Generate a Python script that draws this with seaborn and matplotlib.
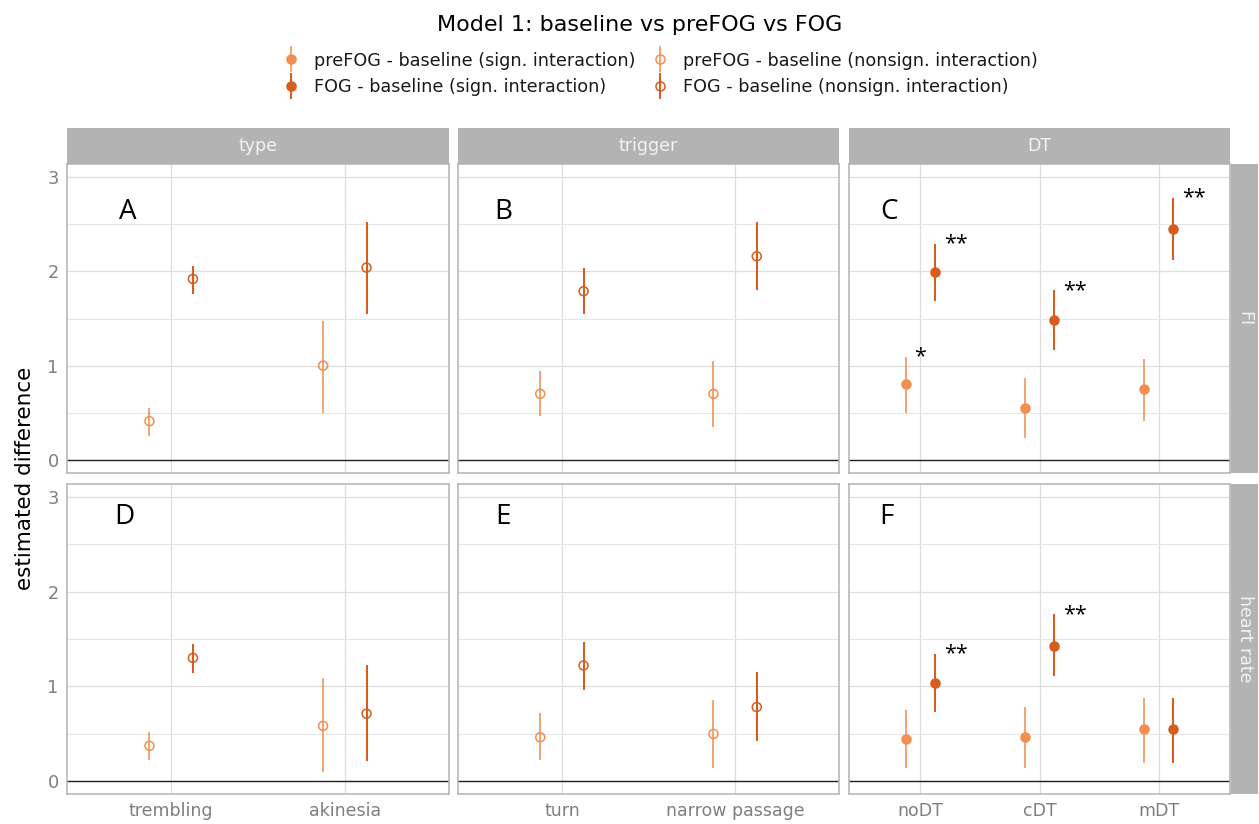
import matplotlib
matplotlib.use("Agg")
import matplotlib.pyplot as plt
from matplotlib.lines import Line2D
import numpy as np
import pandas as pd
import seaborn as sns

# categories per facet
facets = ["type", "trigger", "DT"]
type_levels = ["trembling", "akinesia"]
trigger_levels = ["turn", "narrow passage"]
dt_levels = ["noDT", "cDT", "mDT"]
outcomes = ["FI", "heart rate"]
contrasts = ["preFOG - baseline", "FOG - baseline"]

# estimates, order: trembling, akinesia, turn, narrow passage, noDT, cDT, mDT
fi_prefog_est = [0.41, 1.00, 0.70, 0.70, 0.80, 0.555, 0.75]
fi_prefog_lo = [0.25, 0.50, 0.46, 0.35, 0.495, 0.23, 0.41]
fi_prefog_hi = [0.555, 1.475, 0.945, 1.05, 1.09, 0.866, 1.07]
fi_fog_est = [1.92, 2.04, 1.79, 2.16, 1.99, 1.48, 2.45]
fi_fog_lo = [1.76, 1.55, 1.55, 1.80, 1.69, 1.17, 2.12]
fi_fog_hi = [2.06, 2.52, 2.04, 2.52, 2.29, 1.80, 2.78]

hr_prefog_est = [0.37, 0.58, 0.46, 0.495, 0.44, 0.46, 0.55]
hr_prefog_lo = [0.22, 0.09, 0.22, 0.13, 0.13, 0.14, 0.19]
hr_prefog_hi = [0.52, 1.09, 0.72, 0.855, 0.745, 0.78, 0.88]
hr_fog_est = [1.30, 0.71, 1.22, 0.78, 1.03, 1.43, 0.55]
hr_fog_lo = [1.14, 0.21, 0.96, 0.42, 0.73, 1.11, 0.19]
hr_fog_hi = [1.45, 1.22, 1.47, 1.15, 1.34, 1.76, 0.88]

# significant interaction (filled marker) per facet
sign_interaction = {"type": False, "trigger": False, "DT": True}

fi_prefog_stars = ["", "", "", "", "*", "", ""]
fi_fog_stars = ["", "", "", "", "**", "**", "**"]
hr_prefog_stars = ["", "", "", "", "", "", ""]
hr_fog_stars = ["", "", "", "", "**", "**", ""]

panel_letters = [["A", "B", "C"], ["D", "E", "F"]]

# ---------------------------------------------------------------------------
levels = {"type": type_levels, "trigger": trigger_levels, "DT": dt_levels}
facet_col = [f for f in facets for _ in levels[f]]
level_col = [l for f in facets for l in levels[f]]
level_idx = [i + 1 for f in facets for i in range(len(levels[f]))]

rows = []
series = {
    ("FI", contrasts[0]): (fi_prefog_est, fi_prefog_lo, fi_prefog_hi, fi_prefog_stars),
    ("FI", contrasts[1]): (fi_fog_est, fi_fog_lo, fi_fog_hi, fi_fog_stars),
    ("heart rate", contrasts[0]): (hr_prefog_est, hr_prefog_lo, hr_prefog_hi, hr_prefog_stars),
    ("heart rate", contrasts[1]): (hr_fog_est, hr_fog_lo, hr_fog_hi, hr_fog_stars),
}
for (outcome, contrast), (est, lo, hi, stars) in series.items():
    for k in range(len(est)):
        rows.append({"outcome": outcome, "contrast": contrast, "facet": facet_col[k],
                     "level": level_col[k], "idx": level_idx[k],
                     "est": est[k], "lo": lo[k], "hi": hi[k], "stars": stars[k]})
df = pd.DataFrame(rows)

palette = {contrasts[0]: "#f28f50", contrasts[1]: "#d75c1d"}
lws = {contrasts[0]: 1.15, contrasts[1]: 1.45}
dodge = {contrasts[0]: -0.125, contrasts[1]: 0.125}
df["xpos"] = df["idx"] + df["contrast"].map(dodge)

sns.set_theme(style="white")
plt.rcParams["font.family"] = ["DejaVu Sans"]

W, H = 1259, 824
fig = plt.figure(figsize=(W / 100, H / 100), dpi=100)


def frac(x0, y0, x1, y1):
    return [x0 / W, 1 - y1 / H, (x1 - x0) / W, (y1 - y0) / H]


col_px = [(67, 449), (458, 839), (849, 1230)]
row_px = [(164, 473), (484, 794)]
strip_col = "#b3b3b3"
tick_col = "#7f7f7f"
letter_pos = [[(0.16, 0.845), (0.118, 0.845), (0.105, 0.845)],
              [(0.15, 0.894), (0.118, 0.894), (0.098, 0.894)]]

for r, outcome in enumerate(outcomes):
    for c, facet in enumerate(facets):
        ax = fig.add_axes(frac(col_px[c][0], row_px[r][0], col_px[c][1], row_px[r][1]))
        sub = df[(df.outcome == outcome) & (df.facet == facet)]
        n = len(levels[facet])
        ax.set_xlim(0.4, n + 0.6)
        ax.set_ylim(-0.14, 3.14)
        ax.set_yticks([0, 1, 2, 3])
        ax.set_yticks([0.5, 1.5, 2.5], minor=True)
        ax.set_xticks(range(1, n + 1))
        ax.grid(True, which="major", color="#dedede", lw=0.9)
        ax.grid(True, which="minor", axis="y", color="#e6e6e6", lw=0.8)
        ax.set_axisbelow(True)
        ax.axhline(0, color="#222222", lw=1.0, zorder=1)

        for contrast in contrasts:
            s = sub[sub.contrast == contrast]
            ax.vlines(s["xpos"], s["lo"], s["hi"], color=palette[contrast],
                      lw=lws[contrast], zorder=2)
            sns.scatterplot(data=s, x="xpos", y="est", color=palette[contrast],
                            s=42, legend=False, ax=ax, zorder=3)
            coll = ax.collections[-1]
            coll.set_edgecolor(palette[contrast])
            coll.set_linewidth(1.1)
            if not sign_interaction[facet]:
                coll.set_facecolor("none")
            for _, row in s.iterrows():
                if row["stars"]:
                    ax.text(row["xpos"] + 0.07, row["hi"], row["stars"],
                            ha="left", va="center", fontsize=15.5, color="black",
                            family="Open Sans")

        lx, ly = letter_pos[r][c]
        ax.text(lx, ly, panel_letters[r][c], transform=ax.transAxes, fontsize=20,
                ha="center", va="center", color="black", family="Open Sans")

        ax.set_xlabel("")
        ax.set_ylabel("")
        for sp in ax.spines.values():
            sp.set_color(strip_col)
            sp.set_linewidth(1.1)
        ax.tick_params(axis="both", which="both", length=0)
        if c == 0:
            ax.tick_params(axis="y", which="major", length=3, color=tick_col,
                           labelsize=12.8, labelcolor=tick_col, pad=3)
        else:
            ax.set_yticklabels([])
        if r == 1:
            ax.set_xticklabels(levels[facet])
            ax.tick_params(axis="x", which="major", length=3, color=tick_col,
                           labelsize=12.5, labelcolor=tick_col, pad=3)
        else:
            ax.set_xticklabels([])

        # top strip
        if r == 0:
            sax = fig.add_axes(frac(col_px[c][0], 128, col_px[c][1], 164))
            sax.set_facecolor(strip_col)
            sax.set_xticks([]); sax.set_yticks([])
            for sp in sax.spines.values():
                sp.set_visible(False)
            sax.text(0.5, 0.5, facet, ha="center", va="center", color="#f2f2f2",
                     fontsize=12.5, transform=sax.transAxes)

    # right strip
    rax = fig.add_axes(frac(1231, row_px[r][0], 1258, row_px[r][1]))
    rax.set_facecolor(strip_col)
    rax.set_xticks([]); rax.set_yticks([])
    for sp in rax.spines.values():
        sp.set_visible(False)
    rax.text(0.5, 0.5, outcome, ha="center", va="center", color="#f2f2f2",
             fontsize=12.5, rotation=-90, transform=rax.transAxes)

fig.text(25 / W, 1 - 478 / H, "estimated difference", rotation=90, ha="center",
         va="center", fontsize=15.5, color="black")
fig.text(640 / W, 1 - 25 / H, "Model 1: baseline vs preFOG vs FOG", ha="center",
         va="center", fontsize=16, color="black")

handles, labels = [], []
for filled, tag in [(True, "sign. interaction"), (False, "nonsign. interaction")]:
    for contrast in contrasts:
        col = palette[contrast]
        bar = Line2D([], [], marker="|", markersize=19, mew=lws[contrast], color=col, ls="None")
        dot = Line2D([], [], marker="o", markersize=6.5, mew=1.1, color=col, ls="None",
                     markerfacecolor=col if filled else "none", markeredgecolor=col)
        handles.append((bar, dot))
        labels.append(f"{contrast} ({tag})")
fig.legend(handles, labels, ncol=2, loc="center", bbox_to_anchor=(660 / W, 1 - 74 / H),
           frameon=False, fontsize=12.7, handlelength=1.0, handletextpad=0.8,
           columnspacing=0.9, labelspacing=0.5, labelcolor="#1a1a1a")

fig.savefig("out.png", dpi=100)
